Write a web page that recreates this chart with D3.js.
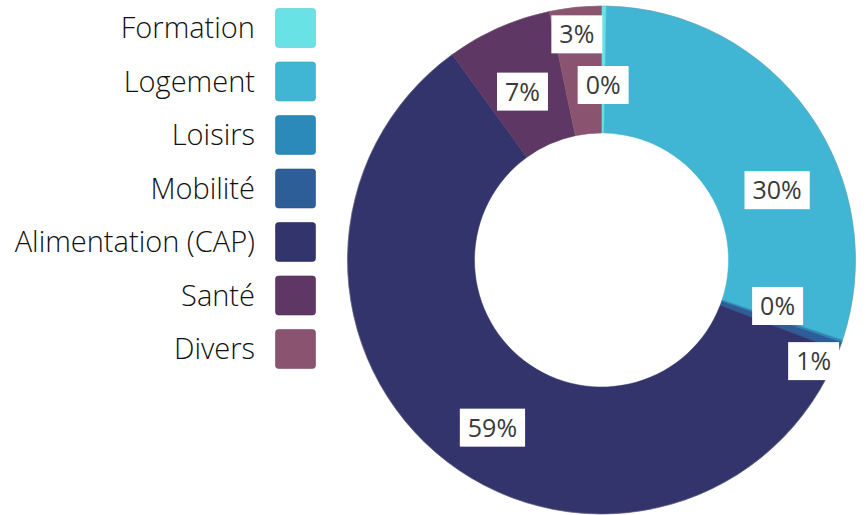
<!DOCTYPE html>
<html>
<head>
<meta charset="utf-8">
<script src="https://cdn.jsdelivr.net/npm/d3@7"></script>
<style>
  body { margin: 0; background: #fff; }
  svg { display: block; }
</style>
</head>
<body>
<svg id="chart" width="868" height="515"></svg>
<script>
// data (percent of total)
const categories = ['Formation', 'Logement', 'Loisirs', 'Mobilité', 'Alimentation (CAP)', 'Santé', 'Divers'];
const shares = [0.3, 29.8, 0.15, 0.55, 59.2, 6.7, 3.3];
const colors = ['#69e2e6', '#41b6d4', '#2b8ab9', '#2e5e97', '#32346b', '#5e3765', '#8a5470'];

// label placement tweaks (angle shift in degrees, radius) - like the excel "best fit"
const labelShift = [0, 13.6, -4, 5.6, -4.4, -1.2, -0.3];
const labelRadius = [175, 189, 182, 235, 200, 186, 227];

const svg = d3.select('#chart');
const cx = 601.5, cy = 260;
const outerR = 254, innerR = 127;

let data = categories.map((c, i) => ({ name: c, value: shares[i], color: colors[i], idx: i }));
let total = d3.sum(shares);

let pie = d3.pie().sort(null).value(d => d.value);
let arc = d3.arc().innerRadius(innerR).outerRadius(outerR);

let g = svg.append('g').attr('transform', 'translate(' + cx + ',' + cy + ')');

g.selectAll('path.slice')
  .data(pie(data))
  .enter().append('path')
  .attr('class', 'slice')
  .attr('d', arc)
  .attr('fill', d => d.data.color)
  .attr('stroke', d => d.data.color)
  .attr('stroke-width', 0.5);

// faint outline round the ring
g.append('circle').attr('r', outerR).attr('fill', 'none')
  .attr('stroke', '#888').attr('stroke-opacity', 0.35).attr('stroke-width', 1);

// data labels in white boxes
let fmt = d3.format('.0%');
let labels = g.selectAll('g.lbl')
  .data(pie(data))
  .enter().append('g')
  .attr('class', 'lbl')
  .attr('transform', d => {
    let a = (d.startAngle + d.endAngle) / 2 + labelShift[d.data.idx] * Math.PI / 180;
    let r = labelRadius[d.data.idx];
    return 'translate(' + (r * Math.sin(a)) + ',' + (-r * Math.cos(a)) + ')';
  });

labels.append('rect').attr('fill', '#fff');
labels.append('text')
  .attr('text-anchor', 'middle')
  .attr('dy', '0.36em')
  .style('font-family', '"Open Sans", sans-serif')
  .style('font-size', '25px')
  .attr('fill', '#3a3a3a')
  .text(d => fmt(d.data.value / total));

labels.each(function() {
  let t = d3.select(this).select('text').node().getBBox();
  d3.select(this).select('rect')
    .attr('x', -t.width / 2 - 8).attr('y', -19)
    .attr('width', t.width + 16).attr('height', 38);
});

// legend on the left
let legY = d3.scaleBand().domain(categories).range([8, 369]).paddingInner(0.252).paddingOuter(0);
let leg = svg.append('g').selectAll('g')
  .data(data)
  .enter().append('g')
  .attr('transform', d => 'translate(0,' + legY(d.name) + ')');

leg.append('rect')
  .attr('x', 275.5).attr('y', 0.5)
  .attr('width', 40).attr('height', 39)
  .attr('rx', 3)
  .attr('fill', d => d.color)
  .attr('stroke', d => d3.color(d.color).darker(0.3))
  .attr('stroke-width', 0.6);

leg.append('text')
  .attr('x', 255).attr('y', 20)
  .attr('dy', '0.36em')
  .attr('text-anchor', 'end')
  .style('font-family', '"Open Sans", sans-serif')
  .style('font-weight', 300)
  .style('font-size', '29px')
  .attr('fill', '#111')
  .text(d => d.name);
</script>
</body>
</html>
